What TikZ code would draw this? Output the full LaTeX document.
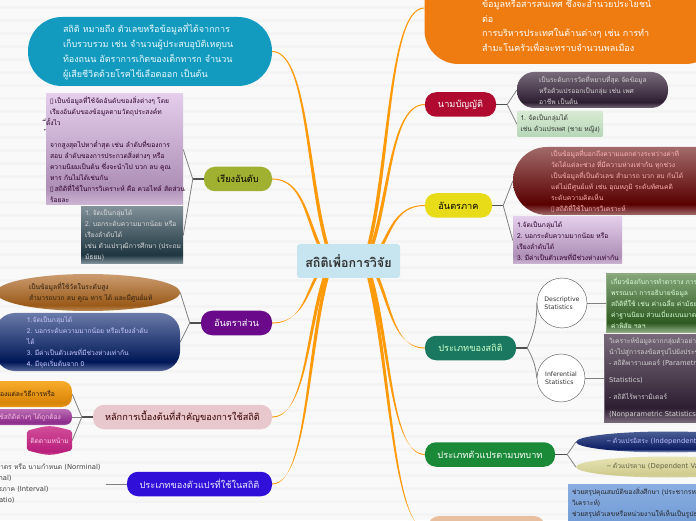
\documentclass[tikz,border=0pt]{standalone}
\usepackage{fontspec}
\setmainfont{Loma}[Script=Thai]
\newfontfamily\latfont{DejaVu Sans}
\newcommand{\latsmall}{\latfont\fontsize{6.8}{10.8}\selectfont}
\usetikzlibrary{positioning,calc,backgrounds,shapes.geometric}

\definecolor{linkorange}{HTML}{FF9A0A}
\definecolor{rootblue}{HTML}{C6E5F0}
\definecolor{twiggray}{HTML}{808080}
\definecolor{stubgray}{HTML}{505050}

% bottom edge, dark band, top edge
\newcommand{\bandshading}[4]{\pgfdeclareverticalshading{#1}{100bp}{color(0bp)=(#2); color(25bp)=(#2); color(33bp)=(#3); color(75bp)=(#4); color(100bp)=(#4)}}
\definecolor{lilacA}{HTML}{CDB6D4}\definecolor{lilacB}{HTML}{AE8FB6}\definecolor{lilacC}{HTML}{E4CEEC}
\definecolor{slateA}{HTML}{8A9AA2}\definecolor{slateB}{HTML}{1E3640}\definecolor{slateC}{HTML}{808F98}
\definecolor{plumA}{HTML}{776878}\definecolor{plumB}{HTML}{2E1E32}\definecolor{plumC}{HTML}{786A7A}
\definecolor{brownA}{HTML}{B88A55}\definecolor{brownB}{HTML}{9A5A18}\definecolor{brownC}{HTML}{CB9C70}
\definecolor{navyA}{HTML}{5A6A9C}\definecolor{navyB}{HTML}{001858}\definecolor{navyC}{HTML}{6A7AA8}
\definecolor{redA}{HTML}{A06C6C}\definecolor{redB}{HTML}{5A0000}\definecolor{redC}{HTML}{A26A6A}
\definecolor{mossA}{HTML}{8FAC84}\definecolor{mossB}{HTML}{2E5A20}\definecolor{mossC}{HTML}{86A67A}
\definecolor{amberA}{HTML}{E89A1A}\definecolor{amberB}{HTML}{D88408}\definecolor{amberC}{HTML}{F9AC2A}
\definecolor{mauveA}{HTML}{A456A4}\definecolor{mauveB}{HTML}{8C2C8C}\definecolor{mauveC}{HTML}{BA6CB2}
\definecolor{pinkA}{HTML}{D04C96}\definecolor{pinkB}{HTML}{B8207C}\definecolor{pinkC}{HTML}{D4509A}
\definecolor{duskA}{HTML}{A8BAD6}\definecolor{duskB}{HTML}{0E1E64}\definecolor{duskC}{HTML}{4A5E94}
\definecolor{sandA}{HTML}{D8D4A0}\definecolor{sandB}{HTML}{D0CC90}\definecolor{sandC}{HTML}{E8E4B4}
\definecolor{skyA}{HTML}{4C7EC2}\definecolor{skyB}{HTML}{5A8ACA}\definecolor{skyC}{HTML}{8AAEE2}
\definecolor{mintA}{HTML}{B6D6B6}\definecolor{mintB}{HTML}{BCDABC}\definecolor{mintC}{HTML}{D8EAD4}
\bandshading{lilacband}{lilacA}{lilacB}{lilacC}
\bandshading{slateband}{slateA}{slateB}{slateC}
\bandshading{plumband}{plumA}{plumB}{plumC}
\bandshading{brownband}{brownA}{brownB}{brownC}
\bandshading{navyband}{navyA}{navyB}{navyC}
\bandshading{redband}{redA}{redB}{redC}
\bandshading{mossband}{mossA}{mossB}{mossC}
\bandshading{amberband}{amberA}{amberB}{amberC}
\bandshading{mauveband}{mauveA}{mauveB}{mauveC}
\bandshading{pinkband}{pinkA}{pinkB}{pinkC}
\bandshading{duskband}{duskA}{duskB}{duskC}
\bandshading{sandband}{sandA}{sandB}{sandC}
\bandshading{skyband}{skyA}{skyB}{skyC}
\bandshading{mintband}{mintA}{mintB}{mintC}

\tikzset{
    %Define style for the centre
    rootnode/.style={
             rectangle, fill=rootblue, rounded corners=3pt,
             minimum width=103pt, minimum height=34pt, inner sep=0pt,
             text=black!80, font=\fontsize{12.5}{14}\selectfont\bfseries},
    %Define style for main topics
    topicnode/.style={
             rectangle, rounded corners=11pt,
             minimum height=24.5pt, inner sep=0pt,
             font=\fontsize{9.2}{12}\selectfont},
    %Define style for notes
    notenode/.style={
             rectangle, inner sep=0pt, align=left,
             font=\fontsize{6.7}{11}\selectfont},
    pillnote/.style={notenode, rounded corners=17pt},
    ovalnote/.style={notenode, ellipse},
    statnode/.style={
             circle, draw=stubgray, fill=white, inner sep=0pt, align=left,
             text=black!80, font=\latfont\fontsize{6.2}{8.2}\selectfont},
    % Define arrow style
    rootlink/.style={
            draw=none, fill=linkorange,
            to path={let \p0=(\tikztostart),\p3=(\tikztotarget),
              \n1={(\x3>\x0)*2-1},\n2={(\y3>\y0)*2-1} in
              ({\x0+\n1*11pt},{\y0-\n2*9pt})
              .. controls ({\x0+\n1*40pt},{\y0-\n2*9pt+(\y3-\y0+\n2*9pt)*0.28})
              and ({\x3-\n1*40pt},{\y3+0.5pt}) .. (\x3,{\y3+0.5pt})
              -- (\x3,{\y3-0.5pt})
              .. controls ({\x3-\n1*38.5pt},{\y3-0.5pt})
              and ({\x0+\n1*44pt},{\y0-\n2*9pt+(\y3-\y0+\n2*9pt)*0.28})
              .. ({\x0+\n1*14.5pt},{\y0-\n2*9pt}) -- cycle}},
    stublink/.style={draw=stubgray, line width=1.2pt},
    twiglink/.style={draw=twiggray, line width=0.8pt}
}

\begin{document}
\begin{tikzpicture}[x=1pt, y=1pt, on grid, node distance=20pt]
 \useasboundingbox (0,0) rectangle (696,520);
 \node[rootnode] (root) at (348.5,259) {สถิติเพื่อการวิจัย};

 % left side
 \node[pillnote, rounded corners=34pt, fill={rgb,255:red,18;green,155;blue,190},
       minimum width=244pt, minimum height=69pt, text width=174pt, text=white!92!cyan,
       font=\fontsize{9}{15}\selectfont, above left=209.5pt and 198.5pt of root] (meaning)
   {สถิติ หมายถึง ตัวเลขหรือข้อมูลที่ได้จากการ\\เก็บรวบรวม เช่น จำนวนผู้ประสบอุบัติเหตุบน\\ท้องถนน อัตราการเกิดของเด็กทารก จำนวน\\ผู้เสียชีวิตด้วยโรคไข้เลือดออก เป็นต้น};
 \node[topicnode, fill={rgb,255:red,160;green,176;blue,48}, minimum width=68pt, text=black,
       above left=82pt and 110.5pt of root] (rank) {เรียงอันดับ};
 \node[notenode, shading=lilacband, minimum width=137pt, minimum height=111pt, text width=129pt, text=black!40!violet!60!black,
       above left=29.5pt and 123.5pt of rank] (rankrule)
   {{\latfont ▯}\,เป็นข้อมูลที่ใช้จัดอันดับของสิ่งต่างๆ~โดย\\เรียงอันดับของข้อมูลตามวัตถุประสงค์ท\\\hspace*{-4pt}ี่ตั้งไว\\\hspace*{-4pt}้\\จากสูงสุดไปหาต่ำสุด~เช่น~ลำดับที่ของการ\\สอบ~ลำดับของการประกวดสิ่งต่างๆ~หรือ\\ความนิยมเป็นต้น~ซึ่งจะนำไป~บวก~ลบ~คูณ\\หาร~กันไม่ได้เช่นกัน\\{\latfont ▯}\,สถิติที่ใช้ในการวิเคราะห์~คือ~ควอไทล์~สัดส่วน\\ร้อยละ};
 \node[notenode, shading=slateband, minimum width=102pt, minimum height=57pt, text width=94pt, text=white!85!black,
       below left=56.5pt and 106pt of rank] (rankuse)
   {1.~จัดเป็นกลุ่มได้\\2.~บอกระดับความมากน้อย~หรือ\\เรียงลำดับได้\\เช่น~ตัวแปรวุฒิการศึกษา~(ประถม\\มัธยม)};
 \node[topicnode, fill={rgb,255:red,106;green,10;blue,138}, minimum width=71pt, text=white,
       below left=62pt and 112pt of root] (ratio) {อันตราส่วน};
 \node[ovalnote, shading=brownband, minimum width=184pt, minimum height=37pt, text width=118pt, text=black!75!brown,
       above left=30.5pt and 148.5pt of ratio] (ratiorule)
   {เป็นข้อมูลที่ใช้วัดในระดับสูง\\สำมารถบวก~ลบ~คูณ~หาร~ได้~และมีศูนย์แท้};
 \node[pillnote, rounded corners=20pt, shading=navyband, minimum width=185pt, minimum height=58pt, text width=121pt, text=white!78!blue,
       below left=19pt and 149pt of ratio] (ratiouse)
   {1.จัดเป็นกลุ่มได้\\2.~บอกระดับความมากน้อย~หรือเรียงลำดับ\\ได้\\3.~มีค่าเป็นตัวเลขที่มีช่วงห่างเท่ากัน\\4.~มีจุดเริ่มต้นจาก~0};
 \node[topicnode, fill={rgb,255:red,232;green,200;blue,204}, minimum width=179pt, text=black!70!red!70!black,
       below left=156pt and 166pt of root] (basics) {หลักการเบื้องต้นที่สำคัญของการใช้สถิติ};
 \node[notenode, rounded corners=10pt, shading=amberband, align=right, minimum width=100pt, minimum height=26pt, text width=66pt, text=black!80!brown,
       above left=23pt and 160.5pt of basics] (basicsA) {ของแต่ละวิธีการหรือ};
 \node[notenode, rounded corners=7pt, shading=mauveband, align=right, minimum width=92pt, minimum height=16pt, text width=70pt, text=white!75!magenta,
       left=156.5pt of basics] (basicsB) {ใช้สถิติต่างๆ~ได้ถูกต้อง};
 \node[notenode, minimum width=45pt, minimum height=19pt, align=center, text=white!80!magenta,
       below left=23.5pt and 133pt of basics] (basicsC) {ติดตามหน้าม};
 \node[topicnode, fill={rgb,255:red,48;green,16;blue,216}, minimum width=145pt, text=white!92!blue,
       below left=223pt and 149pt of root] (vartype) {ประเภทของตัวแปรที่ใช้ในสถิติ};
 \node[notenode, align=right, inner xsep=5pt, text=black!75, left=21pt of vartype.west, anchor=east] (varlist)
   {มาตร หรือ นามกำหนด {\latsmall (Norminal)}\\{\latsmall (Ordinal)}\hspace*{89pt}\mbox{}\\อันตรภาค {\latsmall (Interval)}\hspace*{52pt}\mbox{}\\{\latsmall (Ratio)}\hspace*{86pt}\mbox{}};

 % right side
 \node[pillnote, rounded corners=34pt, fill={rgb,255:red,238;green,124;blue,16}, minimum width=295pt, minimum height=112pt, text width=180pt, text=white,
       font=\fontsize{9}{14.5}\selectfont, above right=253pt and 223.5pt of root] (survey)
   {\mbox{}\\\mbox{}\\\mbox{}\\ข้อมูลหรือสารสนเทศ ซึ่งจะอำนวยประโยชน์\\ต่อ\\การบริหารประเทศในด้านต่างๆ เช่น การทำ\\สำมะโนครัวเพื่อจะทราบจำนวนพลเมือง};
 \node[topicnode, fill={rgb,255:red,176;green,10;blue,48}, minimum width=71pt, text=white,
       above right=156.5pt and 112pt of root] (nominal) {นามบัญญัติ};
 \node[pillnote, shading=plumband, minimum width=151pt, minimum height=36pt, text width=107pt, text=white!82!black,
       above right=14.5pt and 132pt of nominal] (nominalrule)
   {เป็นระดับการวัดที่หยาบที่สุด~จัดข้อมูล\\หรือตัวแปรออกเป็นกลุ่ม~เช่น~เพศ\\อาชีพ~เป็นต้น};
 \node[notenode, rounded corners=2pt, shading=mintband, minimum width=86pt, minimum height=26pt, text width=79pt, text=black!80,
       below right=19.5pt and 99.5pt of nominal] (nominaluse)
   {1.~จัดเป็นกลุ่มได้\\เช่น~ตัวแปรเพศ~(ชาย~หญิง)};
 \node[topicnode, fill={rgb,255:red,232;green,220;blue,24}, minimum width=67pt, text=black,
       above right=55.5pt and 110pt of root] (interval) {อันตรภาค};
 \node[pillnote, rounded corners=34pt, shading=redband, minimum width=222pt, minimum height=68pt, text width=146pt, text=white!70!red,
       above right=24.5pt and 165.5pt of interval] (intervalrule)
   {เป็นข้อมูลที่บอกถึงความแตกต่างระหว่างค่าที่\\วัดได้แต่ละช่วง~ที่มีความห่างเท่ากัน~ทุกช่วง\\เป็นข้อมูลที่เป็นตัวเลข~สำมารถ~บวก~ลบ~กันได้\\แต่ไม่มีศูนย์แท้~เช่น~อุณหภูมิ~ระดับทัศนคติ\\ระดับความคิดเห็น\\{\latfont ▯}\,สถิติที่ใช้ในการวิเคราะห์};
 \node[notenode, shading=lilacband, minimum width=109pt, minimum height=47pt, text width=101pt, text=black!40!violet!60!black,
       below right=35pt and 109pt of interval] (intervaluse)
   {1.จัดเป็นกลุ่มได้\\2.~บอกระดับความมากน้อย~หรือ\\เรียงลำดับได้\\3.~มีค่าเป็นตัวเลขที่มีช่วงห่างเท่ากัน};
 \node[topicnode, fill={rgb,255:red,26;green,120;blue,96}, minimum width=91pt, text=white!80!green,
       below right=87pt and 122pt of root] (stattype) {ประเภทของสถิติ};
 \node[statnode, minimum size=50pt, above right=45pt and 91.5pt of stattype] (descr) {Descriptive\\Statistics};
 \node[statnode, minimum size=48pt, below right=30pt and 90.5pt of stattype] (infer) {Inferential\\Statistics};
 \node[notenode, shading=mossband, draw=mossA, minimum width=120pt, minimum height=58pt, text width=110pt, text=white!85!green,
       right=104pt of descr] (descrnote)
   {เกี่ยวข้องกับการทำตาราง~การนำเสนอ\\พรรณนา~การอธิบายข้อมูล\\สถิติที่ใช้~เช่น~ค่าเฉลี่ย~ค่ามัธยฐาน\\ค่าฐานนิยม~ส่วนเบี่ยงเบนมาตรฐาน\\ค่าพิสัย~ฯลฯ};
 \node[notenode, shading=plumband, draw=plumA, minimum width=120pt, minimum height=88pt, text width=110pt, text=white!82!black,
       right=103pt of infer] (infernote)
   {วิเคราะห์ข้อมูลจากกลุ่มตัวอย่าง\\นำไปสู่การลงข้อสรุปไปยังประชากร\\-~สถิติพาราเมตอร์~{\latsmall (Parametric}\\[6pt]{\latsmall Statistics)}\\[6pt]-~สถิติไร้พารามิเตอร์\\[6pt]{\latsmall (Nonparametric~Statistics)}};
 \node[topicnode, fill={rgb,255:red,26;green,138;blue,56}, minimum width=130pt, text=white,
       below right=193.5pt and 141.5pt of root] (rolevar) {ประเภทตัวแปรตามบทบาท};
 \node[ovalnote, shading=duskband, minimum width=184pt, minimum height=21pt, text width=122pt, text=white!75!blue,
       above right=12.5pt and 178pt of rolevar] (indep) {–~ตัวแปรอิสระ~\mbox{\latsmall (Independent~Variable)}};
 \node[ovalnote, shading=sandband, minimum width=184pt, minimum height=21pt, text width=122pt, text=black!55!yellow!70!black,
       below right=12.5pt and 178pt of rolevar] (dep) {–~ตัวแปรตาม~\mbox{\latsmall (Dependent~Variable)}};
 \node[topicnode, fill={rgb,255:red,232;green,192;blue,160}, minimum width=117pt, minimum height=28pt,
       below right=269pt and 138pt of root] (summary) {};
 \node[notenode, shading=skyband, minimum width=150pt, minimum height=92pt, text width=142pt, text=black!85,
       right=156.5pt of summary] (summarynote)
   {ช่วยสรุปคุณสมบัติของสิ่งศึกษา~(ประชากรหรือ\\วิเคราะห์)\\ช่วยสรุปตัวเลขหรือหน่วยงานให้เห็นเป็นรูปธรรม\\\mbox{}\\\mbox{}\\\mbox{}\\\mbox{}\\\mbox{}};

 \coordinate[left=11pt of rank.west] (rankfork);
 \coordinate[left=11pt of ratio.west] (ratiofork);
 \coordinate[left=11pt of basics.west] (basicsfork);
 \coordinate[right=11pt of nominal.east] (nominalfork);
 \coordinate[right=11pt of interval.east] (intervalfork);
 \coordinate[right=11pt of stattype.east] (stattypefork);
 \coordinate[right=12pt of rolevar.east] (rolevarfork);

 \begin{pgfonlayer}{background}
 \fill[white!97.5!black] (0,0) rectangle (696,520);
 \foreach \stripe in {4,17,...,520} {\fill[white!95.5!black] (0,\stripe) rectangle (696,\stripe+3);}
 \path (root) edge[rootlink] (meaning.east)
       (root) edge[rootlink] (rank.east)
       (root) edge[rootlink] (ratio.east)
       (root) edge[rootlink] (basics.east)
       (root) edge[rootlink] (vartype.east)
       (root) edge[rootlink] (survey.west)
       (root) edge[rootlink] (nominal.west)
       (root) edge[rootlink] (interval.west)
       (root) edge[rootlink] (stattype.west)
       (root) edge[rootlink] (rolevar.west)
       (root) edge[rootlink] (summary.west);
 \path (rank.west) edge[stublink] (rankfork)
       (rankfork) edge[twiglink] (rankrule.east)
       (rankfork) edge[twiglink] (rankuse.east)
       (ratio.west) edge[stublink] (ratiofork)
       (ratiofork) edge[twiglink] (ratiorule.east)
       (ratiofork) edge[twiglink] (ratiouse.east)
       (basics.west) edge[stublink] (basicsfork)
       (basicsfork) edge[twiglink] (basicsA.east)
       (basicsfork) edge[twiglink] (basicsB.east)
       (basicsfork) edge[twiglink] (basicsC.east)
       (vartype.west) edge[twiglink] (varlist.east)
       (nominal.east) edge[stublink] (nominalfork)
       (nominalfork) edge[twiglink] (nominalrule.west)
       (nominalfork) edge[twiglink] (nominaluse.west)
       (interval.east) edge[stublink] (intervalfork)
       (intervalfork) edge[twiglink] (intervalrule.west)
       (intervalfork) edge[twiglink] (intervaluse.west)
       (stattype.east) edge[stublink] (stattypefork)
       (stattypefork) edge[twiglink, bend right=12] (descr.west)
       (stattypefork) edge[twiglink, bend left=12] (infer.west)
       (descr.east) edge[twiglink] (descrnote.west)
       (infer.east) edge[twiglink] (infernote.west)
       (rolevar.east) edge[stublink] (rolevarfork)
       (rolevarfork) edge[twiglink] (indep.west)
       (rolevarfork) edge[twiglink] (dep.west);
 \shade[shading=pinkband, rounded corners=2pt] (basicsC.north west)
       .. controls ([yshift=6pt]basicsC.north) .. (basicsC.north east)
       -- (basicsC.south east)
       .. controls ([yshift=-6pt]basicsC.south) .. (basicsC.south west) -- cycle;
 \end{pgfonlayer}
\end{tikzpicture}
\end{document}
